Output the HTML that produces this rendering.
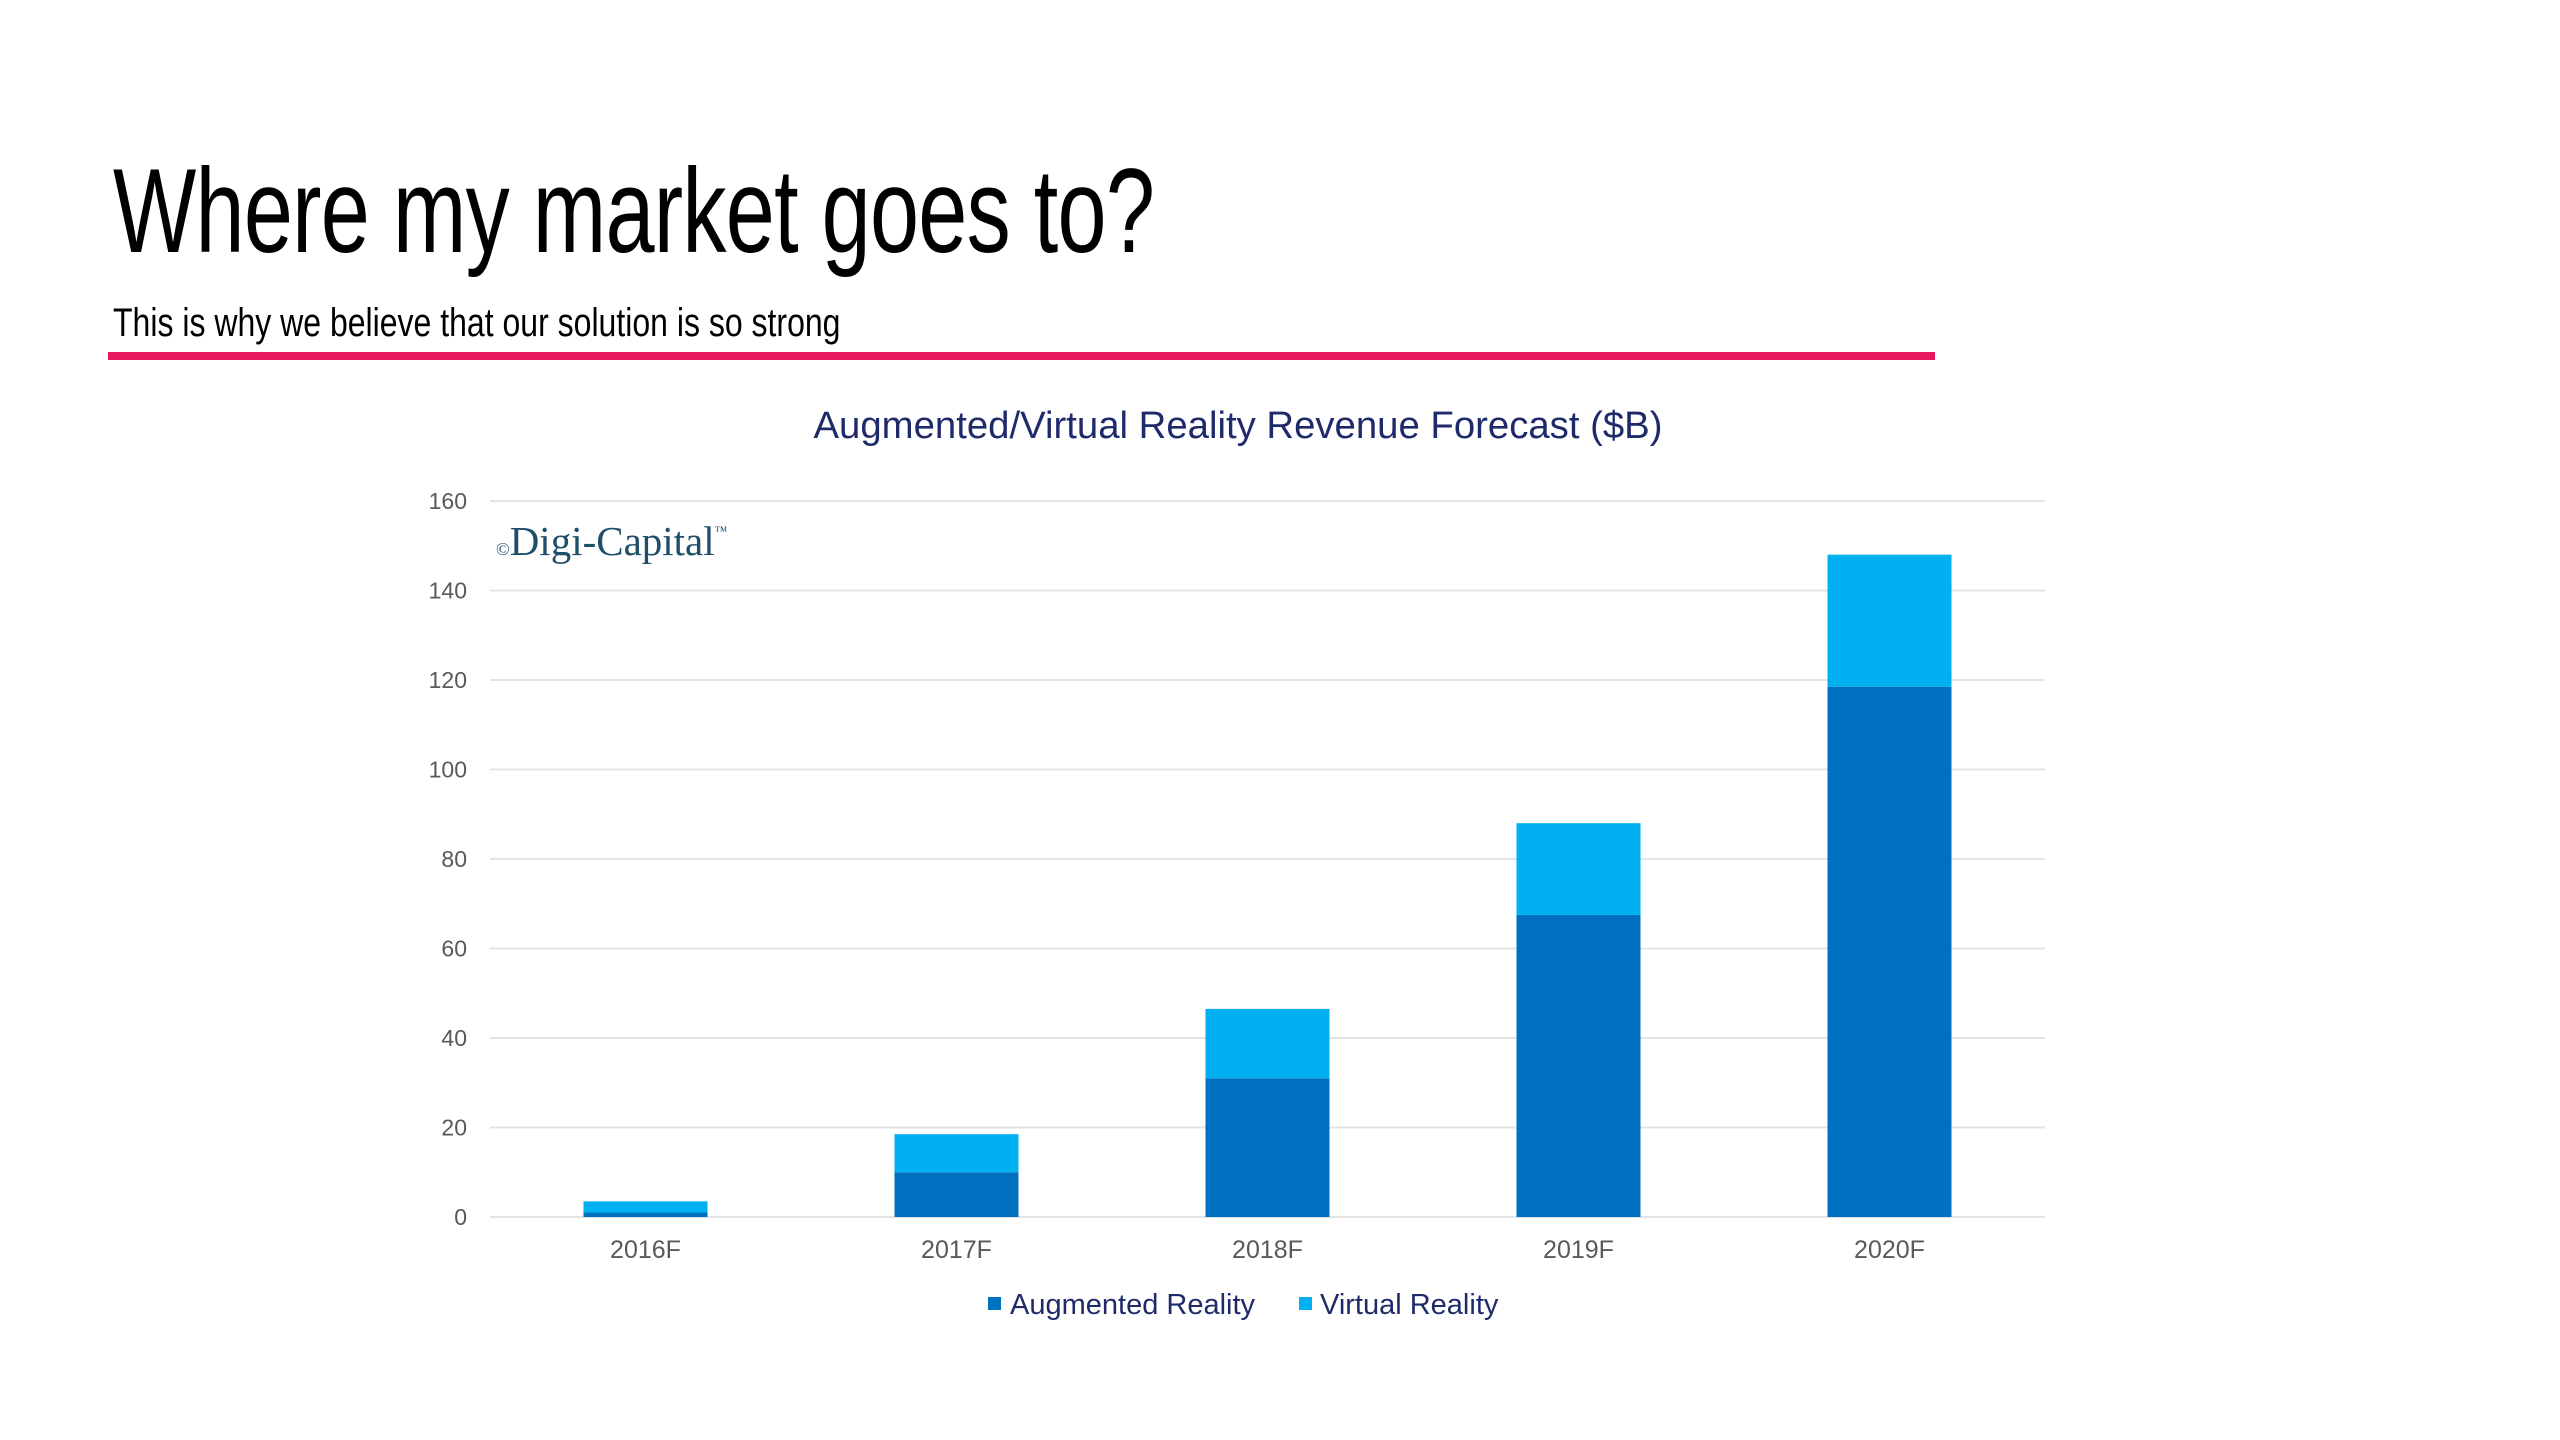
<!DOCTYPE html>
<html><head><meta charset="utf-8"><style>
body{margin:0;width:2560px;height:1440px;background:#fff;overflow:hidden;position:relative;font-family:"Liberation Sans",sans-serif}
.t{position:absolute;white-space:nowrap}
</style></head><body>
<div class="t" style="left:113px;top:146px;font-size:120px;line-height:130px;color:#000;transform:scaleX(0.735);transform-origin:0 0;letter-spacing:-1px">Where my market goes to?</div>
<div class="t" style="left:113px;top:300px;font-size:40px;line-height:46px;color:#000;transform:scaleX(0.8);transform-origin:0 0">This is why we believe that our solution is so strong</div>
<div style="position:absolute;left:108px;top:352px;width:1827px;height:8px;background:#e8185f"></div>
<svg id="chart" width="2560" height="1440" style="position:absolute;left:0;top:0">
<text x="1238" y="438" text-anchor="middle" font-family="Liberation Sans, sans-serif" font-size="38" fill="#1f2a6b" textLength="849" lengthAdjust="spacingAndGlyphs">Augmented/Virtual Reality Revenue Forecast ($B)</text>
<text x="496" y="555" font-family="Liberation Serif, serif" font-size="41" fill="#1f4e6b"><tspan font-size="18">©</tspan>Digi-Capital<tspan font-size="13" dy="-20">™</tspan></text>
<g id="grid"></g><g id="bars"></g><g id="xl"></g>
<rect x="988" y="1297" width="13" height="13" fill="#0070c0"/>
<text x="1010" y="1314" font-family="Liberation Sans, sans-serif" font-size="29" fill="#1f2a6b">Augmented Reality</text>
<rect x="1299" y="1297" width="13" height="13" fill="#00b0f0"/>
<text x="1320" y="1314" font-family="Liberation Sans, sans-serif" font-size="29" fill="#1f2a6b">Virtual Reality</text>
</svg>
<script>
const categories=["2016F","2017F","2018F","2019F","2020F"];
const arValues=[1,10,31,67.5,118.5];
const vrValues=[2.5,8.5,15.5,20.5,29.5];
const yTicks=[0,20,40,60,80,100,120,140,160];
const NS="http://www.w3.org/2000/svg";
const x0=490,x1=2045,y0=1217,y1=501,yMax=160,bw=124;
const y=v=>y0-(v/yMax)*(y0-y1);
const xc=i=>x0+(x1-x0)*(i+0.5)/categories.length;
function mk(t,a,p){const e=document.createElementNS(NS,t);for(const k in a)e.setAttribute(k,a[k]);p.appendChild(e);return e;}
const g=document.getElementById('grid');
yTicks.forEach(v=>{
 const l=mk('line',{x1:x0,x2:x1,y1:y(v),y2:y(v),stroke:'#e4e4e4','stroke-width':2},g);
 
 
 const t=mk('text',{x:467,y:y(v)+8,'text-anchor':'end','font-size':23,fill:'#595959','font-family':'Liberation Sans, sans-serif'},g);
 t.textContent=v;
 
 
});
const b=document.getElementById('bars'),xl=document.getElementById('xl');
categories.forEach((c,i)=>{
 const a=arValues[i],v=vrValues[i];
 const r1=mk('rect',{x:xc(i)-bw/2,y:y(a),width:bw,height:y0-y(a),fill:'#0070c0'},b);
 
 
 const r2=mk('rect',{x:xc(i)-bw/2,y:y(a+v),width:bw,height:y(a)-y(a+v),fill:'#00b0f0'},b);
 
 
 const t=mk('text',{x:xc(i),y:1258,'text-anchor':'middle','font-size':25,fill:'#595959','font-family':'Liberation Sans, sans-serif'},xl);
 t.textContent=c;
 
 
});
</script>
</body></html>
